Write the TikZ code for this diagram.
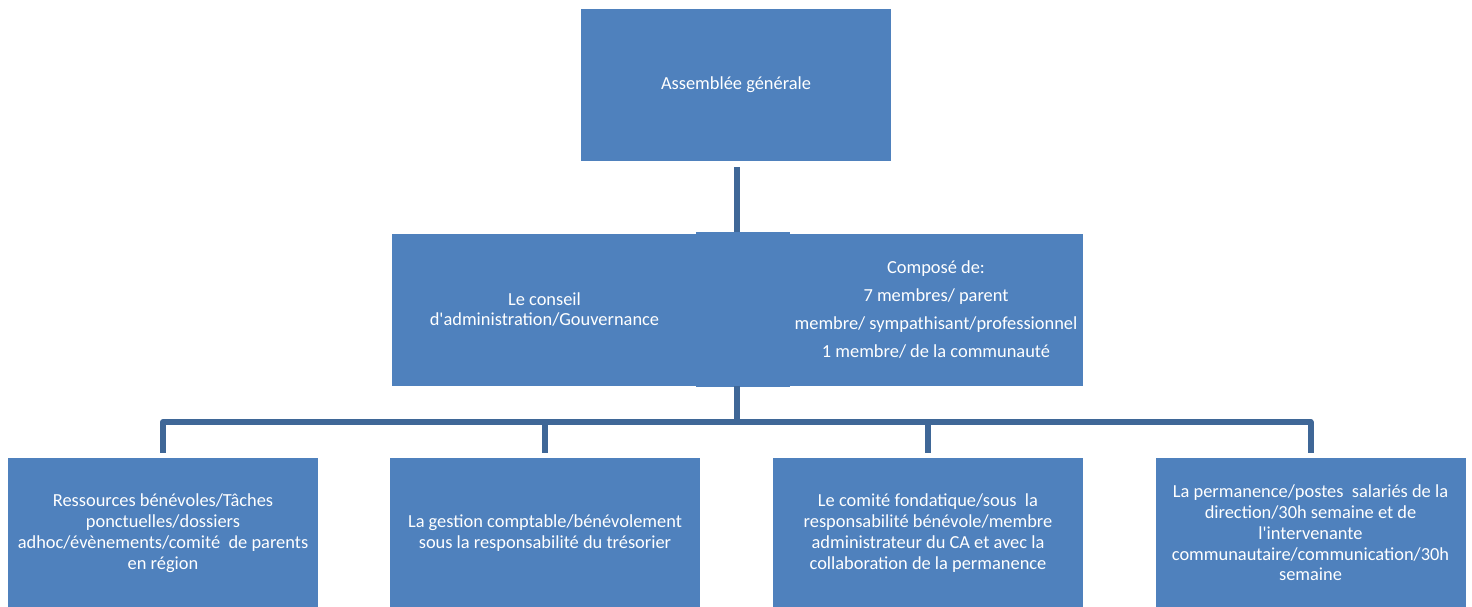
\documentclass[tikz,border=0pt]{standalone}
\usepackage{fontspec}
\setmainfont{Carlito}
\usepackage{tikz}
\usetikzlibrary{positioning, calc}
\definecolor{org_blue}{HTML}{4F81BD}
\definecolor{org_line}{HTML}{3F6797}
\tikzset{
  unit/.style={rectangle,fill=org_blue,text=white,font=\fontsize{9.2}{10.4}\selectfont,align=center,inner sep=0pt},
  unit_top/.style={unit,minimum width=155pt,minimum height=76pt},
  unit_sub/.style={unit,minimum width=155pt,minimum height=75pt},
  link/.style={draw=org_line,line width=3pt,line join=round},
}
\begin{document}
\begin{tikzpicture}[x=0.5pt,y=-0.5pt]
	    \useasboundingbox (0,0) rectangle (1472,606);
	    \node[unit_top] (ag) at (736,85) {Assemblée générale};
	    % conseil: two halves joined by a slightly taller block
	    \node[unit,minimum width=47pt,minimum height=77.5pt] (joint) at (742.5,309.5) {};
	    \node[unit,minimum width=152.5pt,minimum height=76pt] (ca) at (544.5,309.5) {Le conseil\\d\textquotesingle administration/Gouvernance};
	    \node[unit,minimum width=147pt,minimum height=76pt] (compo) at (936,309.5) {Composé de:\\[3.6pt]7 membres/ parent\\[3.6pt]membre/ sympathisant/professionnel\\[3.6pt]1 membre/ de la communauté};
	    \node[unit_sub] (benevoles) at (163,533) {Ressources bénévoles/Tâches\\ponctuelles/dossiers\\adhoc/évènements/comité\ \ de parents\\en région};
	    \node[unit_sub] (gestion) at (545,533) {La gestion comptable/bénévolement\\sous la responsabilité du trésorier};
	    \node[unit_sub] (comite) at (928,533) {Le comité fondatique/sous\ \ la\\responsabilité bénévole/membre\\administrateur du CA et avec la\\collaboration de la permanence};
	    \node[unit_sub] (permanence) at (1310.5,533) {La permanence/postes\ \ salariés de la\\direction/30h semaine et de\\l\textquotesingle intervenante\\communautaire/communication/30h\\semaine};
	    \coordinate (hub) at (737,422);
	    \draw[link,shorten <=3pt] (ag.south -| hub) -- (hub |- joint.north);
	    \draw[link] (hub |- ca.south) -- (hub);
	    \draw[link,shorten <=2.5pt,shorten >=2.5pt] (benevoles.north) |- (hub) -| (permanence.north);
	    \draw[link,shorten <=2.5pt] (gestion.north) -- (gestion.north |- hub);
	    \draw[link,shorten <=2.5pt] (comite.north) -- (comite.north |- hub);
	\end{tikzpicture}
\end{document}
